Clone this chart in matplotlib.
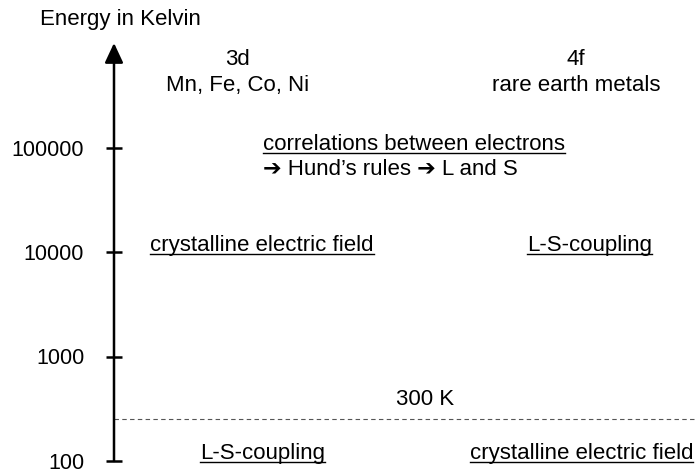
import matplotlib
matplotlib.use("Agg")
import matplotlib.pyplot as plt
from matplotlib.lines import Line2D

plt.rcParams['font.family'] = ['Liberation Sans', 'DejaVu Sans']
plt.rcParams['font.size'] = 16

# Energy scale (Kelvin)
tick_values = [100, 1000, 10000, 100000]
tick_labels = ["100", "1000", "10000", "100000"]
axis_min, axis_max = 100, 1e6
room_temp_line = 255          # dashed line drawn just below the "300 K" label
room_temp_label = "300 K"

# Column headers
headers = ["3d\nMn, Fe, Co, Ni", "4f\nrare earth metals"]

# Energy scale annotations: (text, energy in K, underlined)
left_notes = [("crystalline electric field", 11500, True),
              ("L-S-coupling", 118, True)]
right_notes = [("L-S-coupling", 11500, True),
               ("crystalline electric field", 118, True)]
corr_title = "correlations between electrons"
corr_sub = "\u2794 Hund\u2019s rules \u2794 L and S"

fig = plt.figure(figsize=(6.95, 4.74), dpi=100)
ax = fig.add_axes([114 / 695, 13 / 474, 581 / 695, 418 / 474])
ax.set_yscale('log')
ax.set_ylim(axis_min, axis_max)
ax.set_xlim(0, 1)
for s in ax.spines.values():
    s.set_visible(False)
ax.set_xticks([])
ax.set_yticks(tick_values)
ax.set_yticklabels(tick_labels)
ax.minorticks_off()
ax.tick_params(axis='y', direction='inout', length=11, width=1.8, pad=16, labelsize=15.5)

# vertical energy axis with arrow head
ax.annotate('', xy=(0, axis_max), xytext=(0, axis_min),
            arrowprops=dict(arrowstyle='-|>,head_length=0.6,head_width=0.28',
                            lw=1.8, color='black', mutation_scale=20,
                            shrinkA=0, shrinkB=0), annotation_clip=False)

fig.text(40 / 695, 1 - 20 / 474, "Energy in Kelvin", ha='left', va='center', fontsize=16)

# column headers
ax.text(0.212, 5.2e5, headers[0], ha='center', va='center', linespacing=1.3)
ax.text(0.795, 5.2e5, headers[1], ha='center', va='center', linespacing=1.3)

underlined = []
t = ax.text(0.256, 1.07e5, corr_title, ha='left', va='center')
underlined.append(t)
ax.text(0.256, 6.1e4, corr_sub, ha='left', va='center')

for txt, y, ul in left_notes:
    t = ax.text(0.255, y, txt, ha='center', va='center')
    if ul:
        underlined.append(t)
for i, (txt, y, ul) in enumerate(right_notes):
    xpos = 0.818 if i == 0 else 0.805
    t = ax.text(xpos, y, txt, ha='center', va='center')
    if ul:
        underlined.append(t)

# room temperature
ax.axhline(room_temp_line, xmin=0, xmax=1, color='#555555', lw=0.8, ls=(0, (4, 3)))
ax.text(0.535, 392, room_temp_label, ha='center', va='center')

# underline the marked labels
fig.canvas.draw()
inv = fig.transFigure.inverted()
for t in underlined:
    bb = t.get_window_extent()
    (x0, y0), (x1, _) = inv.transform([(bb.x0, bb.y0 + 2), (bb.x1, bb.y1)])
    fig.add_artist(Line2D([x0, x1], [y0, y0], color='black', lw=1.0))

fig.savefig("out.png", dpi=100)
